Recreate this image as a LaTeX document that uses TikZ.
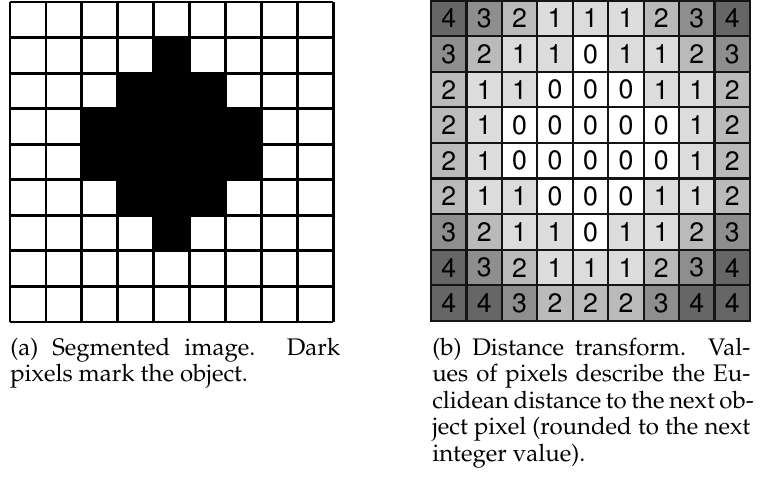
\documentclass[tikz,border=0pt]{standalone}
\usepackage[T1]{fontenc}
\definecolor{gfour}{HTML}{666666}
\definecolor{gthree}{HTML}{8E8E8E}
\definecolor{gtwo}{HTML}{BABABA}
\definecolor{gone}{HTML}{DCDCDC}
\definecolor{gzero}{HTML}{FFFFFF}
\definecolor{gridline}{HTML}{141414}
\newcommand{\capfont}{\fontencoding{T1}\fontfamily{ppl}\fontsize{18}{19}\selectfont}
\newcommand{\digfont}{\fontencoding{T1}\fontfamily{phv}\fontsize{20}{20}\selectfont}
\begin{document}
\begin{tikzpicture}[x=0.75pt,y=-0.75pt,
  leftline/.style={line width=2.1pt,black},
  dtcell/.style={draw=gridline,line width=1.6pt,minimum width=26.58pt,minimum height=26.7pt,inner sep=0pt,font=\digfont,text=black},
  capline/.style={anchor=base west,inner sep=0pt,font=\capfont}]
\useasboundingbox (0,0) rectangle (763,489);
% ---------- left: segmented image ----------
\def\LX{10}\def\LY{2}\def\LW{35.9}\def\LH{35.55}
\foreach \c/\r in {4/1,3/2,4/2,5/2,2/3,3/3,4/3,5/3,6/3,2/4,3/4,4/4,5/4,6/4,3/5,4/5,5/5,4/6}{
  \fill[black] ({\LX+\c*\LW},{\LY+\r*\LH}) rectangle ({\LX+(\c+1)*\LW},{\LY+(\r+1)*\LH});
}
\foreach \i in {0,...,9}{
  \draw[leftline] ({\LX+\i*\LW},{\LY}) -- ({\LX+\i*\LW},{\LY+9*\LH});
  \draw[leftline] ({\LX},{\LY+\i*\LH}) -- ({\LX+9*\LW},{\LY+\i*\LH});
}
% ---------- right: distance transform ----------
\def\RX{431}\def\RY{0.5}\def\RW{35.44}\def\RH{35.6}
\foreach \row [count=\r from 0] in {
  {4,3,2,1,1,1,2,3,4},
  {3,2,1,1,0,1,1,2,3},
  {2,1,1,0,0,0,1,1,2},
  {2,1,0,0,0,0,0,1,2},
  {2,1,0,0,0,0,0,1,2},
  {2,1,1,0,0,0,1,1,2},
  {3,2,1,1,0,1,1,2,3},
  {4,3,2,1,1,1,2,3,4},
  {4,4,3,2,2,2,3,4,4}}{
  \foreach \v [count=\c from 0] in \row {
    \ifcase\v \def\cc{gzero}\or \def\cc{gone}\or \def\cc{gtwo}\or \def\cc{gthree}\or \def\cc{gfour}\fi
    \node[dtcell,fill=\cc] (d-\r-\c) at ({\RX+(\c+0.5)*\RW},{\RY+(\r+0.5)*\RH}) {\v};
  }
}
% ---------- captions ----------
\node[capline] (ca1) at (10,355) {\makebox[247.5pt][s]{(a) Segmented image. Dark}};
\node[capline] (ca2) at (10,381.5) {pixels mark the object.};
\node[capline] (cb1) at (432,355) {\makebox[238.5pt][s]{(b) Distance transform. Val-}};
\node[capline] (cb2) at (432,381.5) {\makebox[238.5pt][s]{ues of pixels describe the Eu-}};
\node[capline] (cb3) at (432,408) {\makebox[238.5pt][s]{clidean distance to the next ob-}};
\node[capline] (cb4) at (432,434.5) {\makebox[238.5pt][s]{ject pixel (rounded to the next}};
\node[capline] (cb5) at (432,461) {integer value).};
\end{tikzpicture}
\end{document}
